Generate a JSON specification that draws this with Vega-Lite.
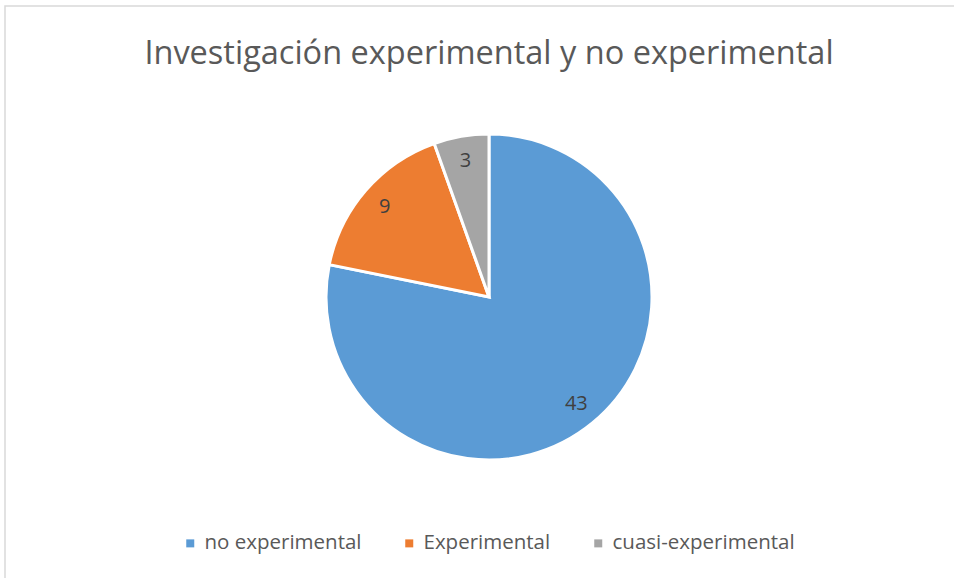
{
  "$schema": "https://vega.github.io/schema/vega-lite/v6.json",
  "width": 968,
  "height": 582,
  "autosize": {"type": "none"},
  "padding": {"left": 5, "top": 6, "right": 0, "bottom": 0},
  "background": "white",
  "view": {"stroke": "#d9d9d9", "strokeWidth": 1.5, "fill": "white"},
  "config": {
    "font": "Open Sans"
  },
  "title": {
    "text": "Investigación experimental y no experimental",
    "fontSize": 32.5,
    "font": "Open Sans",
    "fontWeight": "normal",
    "color": "#595959",
    "anchor": "middle",
    "offset": -62,
    "dy": 28,
    "baseline": "alphabetic"
  },
  "data": {
    "values": [
      {"tipo": "no experimental", "valor": 43, "orden": 1},
      {"tipo": "Experimental", "valor": 9, "orden": 2},
      {"tipo": "cuasi-experimental", "valor": 3, "orden": 3}
    ]
  },
  "encoding": {
    "theta": {"field": "valor", "type": "quantitative", "stack": true},
    "order": {"field": "orden", "type": "quantitative"},
    "color": {
      "field": "tipo",
      "type": "nominal",
      "sort": ["no experimental", "Experimental", "cuasi-experimental"],
      "scale": {
        "domain": ["no experimental", "Experimental", "cuasi-experimental"],
        "range": ["#5b9bd5", "#ed7d31", "#a5a5a5"]
      },
      "legend": {
        "title": null,
        "orient": "none",
        "legendX": 175,
        "legendY": 527,
        "direction": "horizontal",
        "symbolType": "square",
        "symbolSize": 64,
        "symbolStrokeWidth": 0,
        "labelFontSize": 20.5,
        "labelColor": "#595959",
        "labelFont": "Open Sans",
        "labelLimit": 400,
        "columnPadding": 37,
        "labelOffset": 4
      }
    }
  },
  "layer": [
    {
      "mark": {"type": "arc", "outerRadius": 163, "stroke": "white", "strokeWidth": 3}
    },
    {
      "mark": {"type": "text", "radius": 138, "fontSize": 20, "font": "Open Sans", "color": "#404040"},
      "encoding": {
        "text": {"field": "valor", "type": "quantitative"},
        "color": {"value": "#404040"}
      }
    }
  ]
}
